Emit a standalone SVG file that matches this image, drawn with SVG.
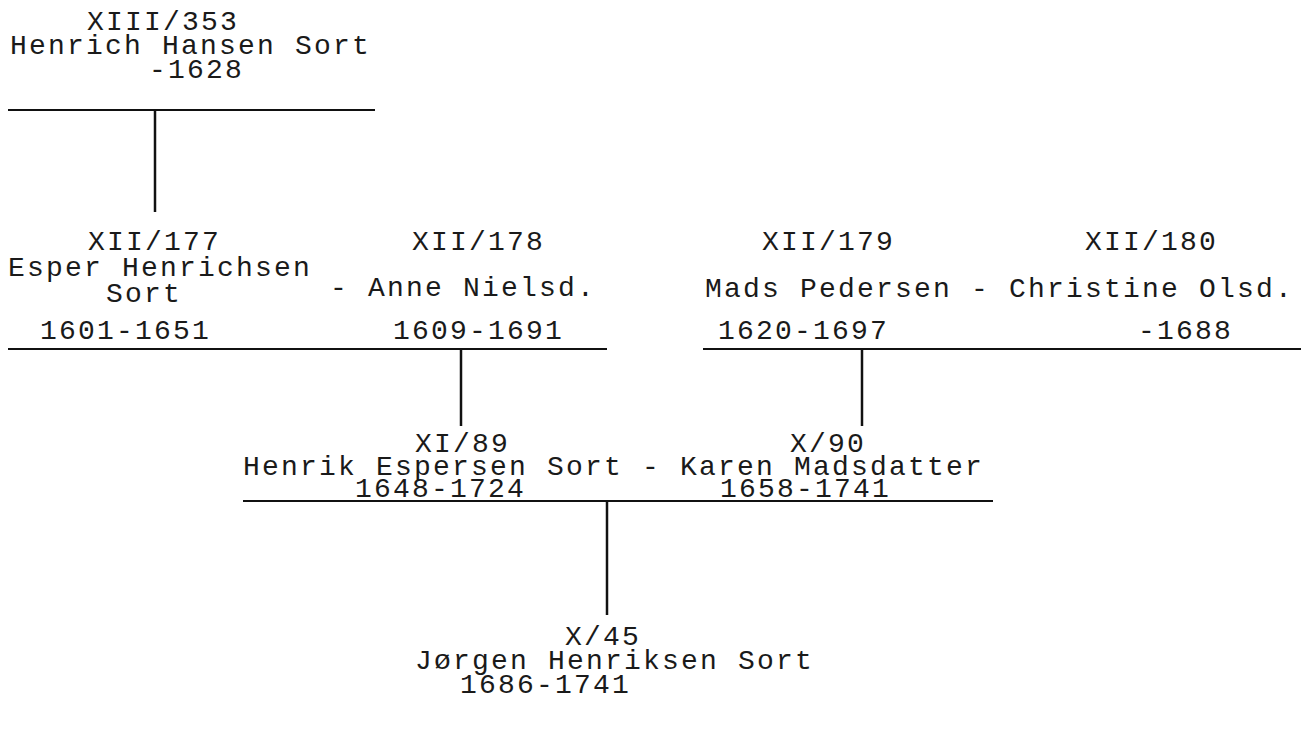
<svg xmlns="http://www.w3.org/2000/svg" width="1301" height="734" viewBox="0 0 1301 734">
<style>
text{font-family:"Liberation Mono","DejaVu Sans Mono",monospace;font-size:28px;letter-spacing:2.2px;fill:#1a1a1a}
.ln{stroke:#111;stroke-width:2;fill:none}
.vl{stroke:#111;stroke-width:2.5;fill:none}
</style>
<rect width="1301" height="734" fill="#fff"/>
<g id="connectors">
<line class="ln" x1="8" y1="110" x2="375" y2="110"/>
<line class="vl" x1="155" y1="110" x2="155" y2="212"/>
<line class="ln" x1="8" y1="349" x2="607" y2="349"/>
<line class="ln" x1="703" y1="349" x2="1301" y2="349"/>
<line class="vl" x1="461" y1="349" x2="461" y2="426"/>
<line class="vl" x1="862" y1="349" x2="862" y2="426"/>
<line class="ln" x1="243" y1="501" x2="993" y2="501"/>
<line class="vl" x1="607" y1="501" x2="607" y2="615"/>
</g>
<g id="n353">
<text x="87" y="30">XIII/353</text>
<text x="10" y="54">Henrich Hansen Sort</text>
<text x="149" y="78">-1628</text>
</g>
<g id="n177">
<text x="88" y="250">XII/177</text>
<text x="8" y="276">Esper Henrichsen</text>
<text x="106" y="302">Sort</text>
<text x="40" y="339">1601-1651</text>
</g>
<g id="n178">
<text x="412" y="250">XII/178</text>
<text x="330" y="296">- Anne Nielsd.</text>
<text x="393" y="339">1609-1691</text>
</g>
<g id="n179_180">
<text x="762" y="250">XII/179</text>
<text x="1085" y="250">XII/180</text>
<text x="705" y="297">Mads Pedersen - Christine Olsd.</text>
<text x="718" y="339">1620-1697</text>
<text x="1138" y="339">-1688</text>
</g>
<g id="n89_90">
<text x="415" y="452">XI/89</text>
<text x="790" y="452">X/90</text>
<text x="243" y="475">Henrik Espersen Sort - Karen Madsdatter</text>
<text x="355" y="497">1648-1724</text>
<text x="720" y="497">1658-1741</text>
</g>
<g id="n45">
<text x="565" y="645">X/45</text>
<text x="415" y="669">Jørgen Henriksen Sort</text>
<text x="460" y="693">1686-1741</text>
</g>
</svg>
